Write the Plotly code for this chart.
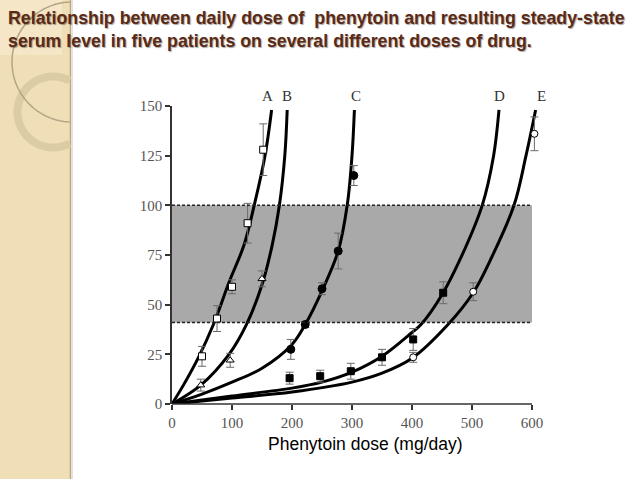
import math
import plotly.graph_objects as go

# Точки измерений (доза мг/сут, уровень в сыворотке, погрешность)
dose_A = [50, 75, 100, 126, 152]
level_A = [24, 43, 59, 91, 128]
err_A = [5, 6.5, 3.5, 10, 13]

dose_B = [48, 97, 150]
level_B = [9.5, 22, 63]
err_B = [3, 3.5, 4]

dose_C = [198, 222, 250, 277, 303]
level_C = [27.5, 40, 58, 77, 115]
err_C = [5, 1.5, 3, 9, 5]

dose_D = [196, 247, 298, 350, 402, 452]
level_D = [13, 14, 16.5, 23.5, 32.5, 56]
err_D = [3, 3, 4, 4, 5.5, 5.5]

dose_E = [402, 502, 604]
level_E = [23.5, 56.5, 136]
err_E = [2.5, 4.5, 8.5]

# Кривые
curve_A_x = [0, 20, 45, 69, 96, 120, 137, 155, 166]
curve_A_y = [0, 10, 24, 40, 62, 80, 100, 125, 148]
curve_B_x = [0, 48, 95, 124, 150, 167, 179, 188, 192]
curve_B_y = [0, 9.5, 25, 40, 60, 80, 100, 125, 148]
curve_C_x = [0, 50, 100, 150, 200, 222, 250, 277, 292, 300, 304]
curve_C_y = [0, 5, 11, 18, 30, 40, 57, 77, 100, 125, 148]
curve_D_x = [0, 100, 200, 250, 300, 350, 400, 415, 450, 482, 517, 536, 545]
curve_D_y = [0, 4, 8, 11, 16, 24, 36, 40, 55, 74, 100, 125, 148]
curve_E_x = [0, 100, 200, 300, 350, 400, 460, 502, 533, 570, 590, 606]
curve_E_y = [0, 3, 6, 11, 15.5, 23, 40, 56, 74, 100, 125, 148]

curve_labels = ['A', 'B', 'C', 'D', 'E']
label_dose = [159, 191, 306, 546, 616]

band_low, band_high = 41, 100
x_ticks = [0, 100, 200, 300, 400, 500, 600]
y_ticks = [0, 25, 50, 75, 100, 125, 150]

# геометрия области построения (пиксели)
L, W, T, H = 172, 372, 106, 298


def px(x):
    return (x - L) / W


def py(y):
    return (T + H - y) / H


def arc_path(cx, cy, r, xmax=70):
    pts = []
    for i in range(181):
        t = 2 * math.pi * i / 180
        x = cx + r * math.cos(t)
        y = cy + r * math.sin(t)
        if x <= xmax:
            pts.append((px(x), py(y)))
    return 'M ' + ' L '.join(f'{a:.4f},{b:.4f}' for a, b in pts)


fig = go.Figure()

curves = [(curve_A_x, curve_A_y), (curve_B_x, curve_B_y), (curve_C_x, curve_C_y),
          (curve_D_x, curve_D_y), (curve_E_x, curve_E_y)]
for cx, cy in curves:
    fig.add_trace(go.Scatter(x=cx, y=cy, mode='lines', line=dict(color='black', width=3, shape='spline'),
                             hoverinfo='skip', showlegend=False))

points = [
    (dose_A, level_A, err_A, 'square', 'white', 7),
    (dose_B, level_B, err_B, 'triangle-up', 'white', 7),
    (dose_C, level_C, err_C, 'circle', 'black', 8),
    (dose_D, level_D, err_D, 'square', 'black', 7),
    (dose_E, level_E, err_E, 'circle', 'white', 7),
]
for dx, dy, de, sym, col, sz in points:
    fig.add_trace(go.Scatter(
        x=dx, y=dy, mode='markers',
        marker=dict(symbol=sym, color=col, size=sz, line=dict(color='black', width=1)),
        error_y=dict(type='data', array=de, color='#6a6a6a', thickness=1, width=4),
        showlegend=False, cliponaxis=False,
    ))

shapes = [
    # боковая полоса слайда
    dict(type='rect', xref='paper', yref='paper', x0=px(0), x1=px(70), y0=py(479), y1=py(0),
         fillcolor='#f0deb6', line=dict(width=0), layer='below'),
    dict(type='rect', xref='paper', yref='paper', x0=px(0), x1=px(62), y0=py(55), y1=py(0),
         fillcolor='#f4e6c6', line=dict(width=0), layer='below'),
    dict(type='line', xref='paper', yref='paper', x0=px(70.5), x1=px(70.5), y0=py(479), y1=py(0),
         line=dict(color='#bba983', width=1.5), layer='below'),
    dict(type='line', xref='paper', yref='paper', x0=px(72), x1=px(72), y0=py(479), y1=py(0),
         line=dict(color='#e6e2da', width=2), layer='below'),
    dict(type='path', xref='paper', yref='paper', path=arc_path(53, 112, 35.5),
         line=dict(color='#dccca4', width=8), layer='below'),
    dict(type='path', xref='paper', yref='paper', path=arc_path(72, 62, 60),
         line=dict(color='#b3a586', width=1.5), layer='below'),
    # терапевтический диапазон
    dict(type='rect', xref='x', yref='y', x0=0, x1=600, y0=band_low, y1=band_high,
         fillcolor='#a9a9a9', line=dict(width=0), layer='below'),
    dict(type='line', xref='x', yref='y', x0=0, x1=600, y0=band_high, y1=band_high,
         line=dict(color='#222', width=1.5, dash='3px,2px')),
    dict(type='line', xref='x', yref='y', x0=0, x1=600, y0=band_low, y1=band_low,
         line=dict(color='#222', width=1.5, dash='3px,2px')),
    # ось X
    dict(type='line', xref='x', yref='paper', x0=0, x1=600, y0=0, y1=0,
         line=dict(color='#333', width=1.5)),
]

annotations = [
    dict(text='Relationship between daily dose of&nbsp; phenytoin and resulting steady-state<br>'
              'serum level in five patients on several different doses of drug.',
         xref='paper', yref='paper', x=px(6), y=py(6), xanchor='left', yanchor='top', align='left',
         showarrow=False,
         font=dict(family='Liberation Sans, Arial', size=17.8, color='#5b2a16', weight='bold',
                   shadow='1px 1px 1px rgba(0,0,0,0.35)')),
    dict(text='Phenytoin dose (mg/day)', xref='paper', yref='paper', x=px(365), y=py(444),
         xanchor='center', yanchor='middle', showarrow=False,
         font=dict(family='Liberation Sans, Arial', size=17.5, color='black')),
]
for lab, xd in zip(curve_labels, label_dose):
    annotations.append(dict(text=lab, xref='x', yref='paper', x=xd, y=155 / 150, showarrow=False,
                            xanchor='center', yanchor='middle',
                            font=dict(family='Liberation Serif, Times New Roman', size=15, color='#333')))

fig.update_layout(
    width=638, height=479,
    margin=dict(l=L, r=638 - L - W, t=T, b=479 - T - H),
    paper_bgcolor='white', plot_bgcolor='white',
    shapes=shapes, annotations=annotations, showlegend=False,
    xaxis=dict(range=[0, 620], tickvals=x_ticks, showgrid=False, zeroline=False, showline=False,
               ticks='outside', ticklen=5, tickwidth=1.5, tickcolor='#333',
               tickfont=dict(family='Liberation Serif, Times New Roman', size=15, color='#555')),
    yaxis=dict(range=[0, 150], tickvals=y_ticks, showgrid=False, zeroline=False, showline=True,
               linecolor='#333', linewidth=1.5,
               ticks='outside', ticklen=5, tickwidth=1.5, tickcolor='#333',
               tickfont=dict(family='Liberation Serif, Times New Roman', size=15, color='#555')),
)

fig.write_html('out.html', config={'displayModeBar': False},
               post_script="document.body.style.margin='0';")
